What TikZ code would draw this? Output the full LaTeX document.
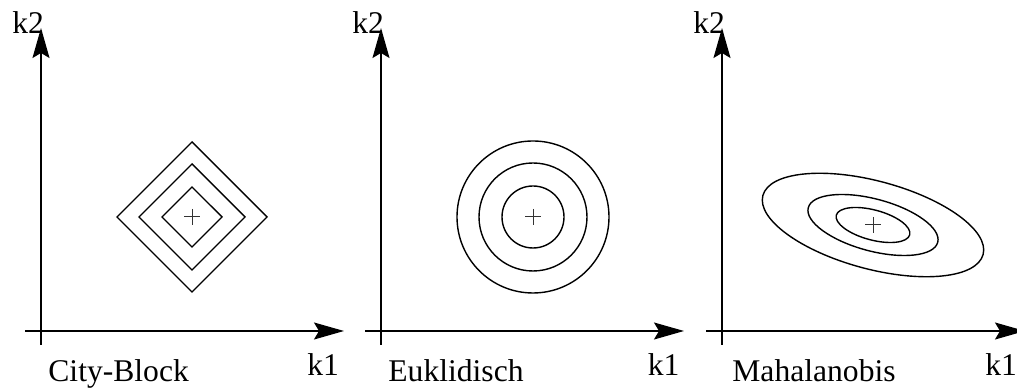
\documentclass[tikz,border=0pt]{standalone}
\usepackage{fontspec}
\setmainfont{Liberation Serif}
\usetikzlibrary{arrows.meta}
\begin{document}
\begin{tikzpicture}[x=0.5bp,y=-0.5bp,
  axis/.style={line width=0.65bp,-{Stealth[length=15bp,width=8.5bp,inset=2.5bp]}},
  contour/.style={line width=0.7bp},
  centermark/.style={line width=0.5bp,black!80},
  lbl/.style={inner sep=0pt,anchor=base west,font=\fontsize{15.8bp}{19bp}\selectfont}]
\useasboundingbox (0,0) rectangle (1017,389);
\clip (0,0) rectangle (1017,389);
\foreach \i/\dx/\kx in {1/0/307,2/340/647.5,3/681/985}{
  \coordinate (xs\i) at (25+\dx,331);
  \coordinate (xe\i) at (344+\dx,331);
  \coordinate (ys\i) at (41+\dx,345);
  \coordinate (ye\i) at (41+\dx,28);
  \draw[axis] (xs\i) -- (xe\i);
  \draw[axis] (ys\i) -- (ye\i);
  \node[lbl] (kx\i) at (\kx,376) {k1};
  \node[lbl] (ky\i) at (12+\dx,34) {k2};
}
\node[lbl] (t1) at (48,382) {City-Block};
\node[lbl] (t2) at (388,382) {Euklidisch};
\node[lbl] (t3) at (732,382) {Mahalanobis};
% centres
\coordinate (c1) at (192,217);
\coordinate (c2) at (533,217);
\coordinate (c3) at (873,225);
\foreach \c in {c1,c2,c3}{
  \draw[centermark] (\c) +(-8,0) -- +(8,0) (\c) +(0,-8) -- +(0,8);
}
% city block
\foreach \r in {30,53,75}{
  \draw[contour] (c1) +(-\r,0) -- +(0,-\r) -- +(\r,0) -- +(0,\r) -- cycle;
}
% euclidean
\foreach \r in {31,54,76}{
  \draw[contour] (c2) circle [radius=\r];
}
% mahalanobis
\foreach \a/\b in {114/44,67/26,38/15}{
  \draw[contour,rotate around={-15:(c3)}] (c3) ellipse [x radius=\a,y radius=\b];
}
\end{tikzpicture}
\end{document}
